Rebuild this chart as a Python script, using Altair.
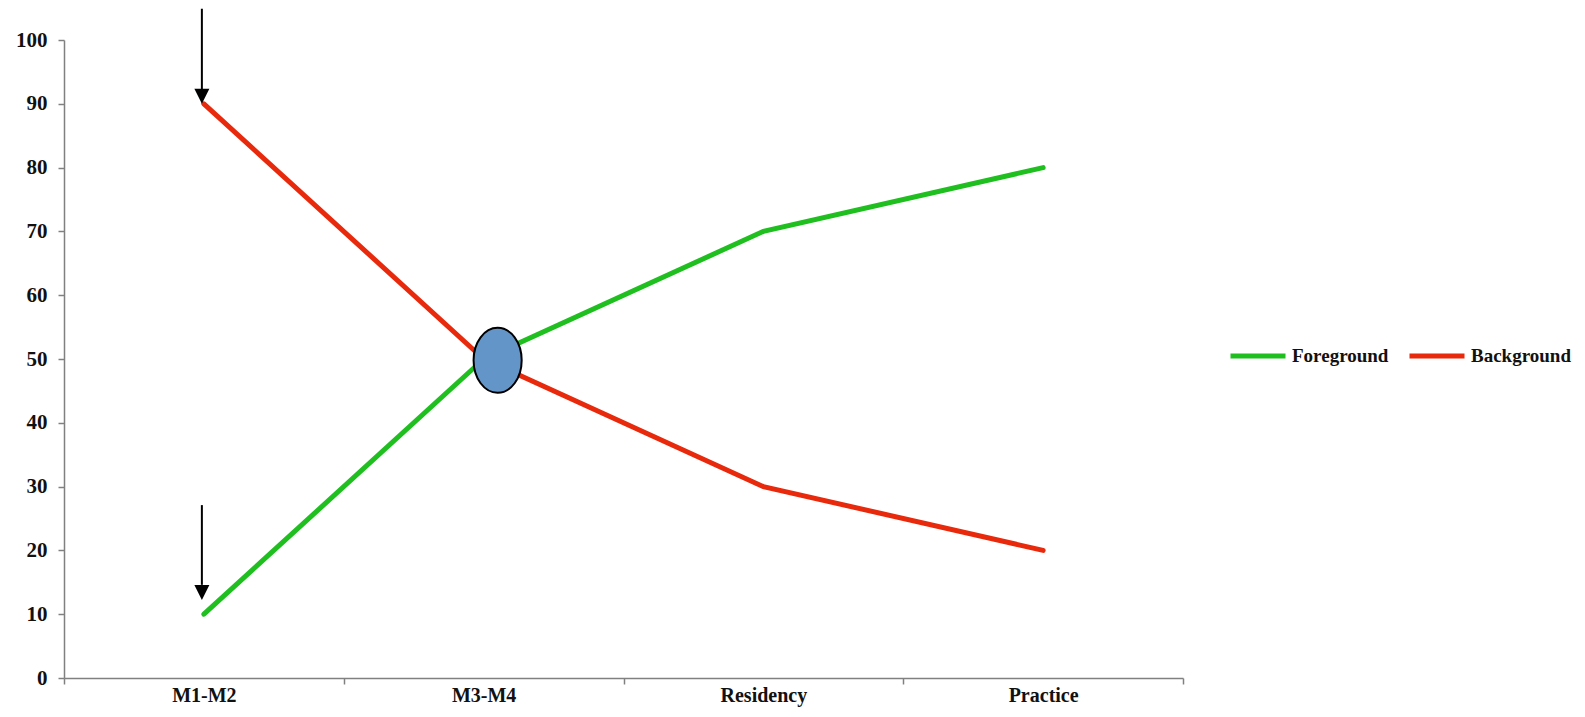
import altair as alt
import pandas as pd

stages = ["M1-M2", "M3-M4", "Residency", "Practice"]
foreground = [10, 50, 70, 80]
background = [90, 50, 30, 20]
series_names = ["Foreground", "Background"]
series_colors = ["#1fbf1f", "#e8290c"]

# arrows at M1-M2: tail value, head top value, head centre value
arrow_stage = ["M1-M2", "M1-M2"]
arrow_tail = [104.9, 27.1]
arrow_head_top = [92.3, 14.6]
arrow_head_center = [91.2, 13.4]

# ellipse marker at the crossing
marker_stage = ["M3-M4"]
marker_value = [49.8]

rows = []
for s, f, b in zip(stages, foreground, background):
    rows.append({"stage": s, "series": "Foreground", "value": f})
    rows.append({"stage": s, "series": "Background", "value": b})
lines_df = pd.DataFrame(rows)

arrows_df = pd.DataFrame({"stage": arrow_stage, "tail": arrow_tail,
                          "top": arrow_head_top, "center": arrow_head_center})
marker_df = pd.DataFrame({"stage": marker_stage, "value": marker_value})

FONT = "Liberation Serif"
x_scale = alt.Scale(type="band", domain=stages, paddingInner=0, paddingOuter=0)
y_scale = alt.Scale(domain=[0, 100])

lines = alt.Chart(lines_df).mark_line(strokeWidth=5, strokeCap="round", clip=False).encode(
    x=alt.X("stage:N", scale=x_scale, sort=stages, title=None,
            axis=alt.Axis(tickBand="extent", labelAngle=0, labelFont=FONT, labelFontSize=20,
                          labelFontWeight="bold", labelColor="#111", labelPadding=1,
                          domainColor="#808080", domainWidth=1.5, tickColor="#808080",
                          tickWidth=1.5, tickSize=6, grid=False)),
    y=alt.Y("value:Q", scale=y_scale, title=None,
            axis=alt.Axis(values=list(range(0, 101, 10)), labelFont=FONT, labelFontSize=21,
                          labelFontWeight="bold", labelColor="#111", labelPadding=11,
                          domainColor="#808080", domainWidth=1.5, tickColor="#808080",
                          tickWidth=1.5, tickSize=6, grid=False)),
    color=alt.Color("series:N", scale=alt.Scale(domain=series_names, range=series_colors),
                    sort=series_names,
                    legend=alt.Legend(title=None, orient="none", direction="horizontal",
                                      legendX=1164, legendY=286, symbolType="stroke",
                                      symbolSize=3025, symbolStrokeWidth=5,
                                      labelFont=FONT, labelFontSize=19, labelFontWeight="bold",
                                      labelColor="#111", columnPadding=10, labelOffset=4,
                                      padding=0)),
    detail="series:N",
)

marker = alt.Chart(marker_df).mark_point(
    shape="M-0.74,0A0.74,1 0 1,0 0.74,0A0.74,1 0 1,0 -0.74,0Z",
    size=4225, filled=True, fill="#6495c9", stroke="black", strokeWidth=2,
    opacity=1, fillOpacity=1, xOffset=14, clip=False,
).encode(x=alt.X("stage:N", scale=x_scale, sort=stages), y=alt.Y("value:Q", scale=y_scale))

arrow_shaft = alt.Chart(arrows_df).mark_rule(color="black", strokeWidth=2, xOffset=-2, clip=False).encode(
    x=alt.X("stage:N", scale=x_scale, sort=stages),
    y=alt.Y("tail:Q", scale=y_scale), y2="top:Q",
)

arrow_head = alt.Chart(arrows_df).mark_point(
    shape="M-1,-1L1,-1L0,1Z", size=225, filled=True, fill="black",
    opacity=1, xOffset=-2, clip=False,
).encode(x=alt.X("stage:N", scale=x_scale, sort=stages), y=alt.Y("center:Q", scale=y_scale))

chart = alt.layer(lines, marker, arrow_shaft, arrow_head).properties(
    width=1119, height=638,
    background="white",
    autosize=alt.AutoSizeParams(type="none"),
    padding={"left": 56, "top": 32, "right": 391, "bottom": 29},
).configure_view(stroke=None)

chart.save("out.html", embed_options={"renderer": "svg", "actions": False})
